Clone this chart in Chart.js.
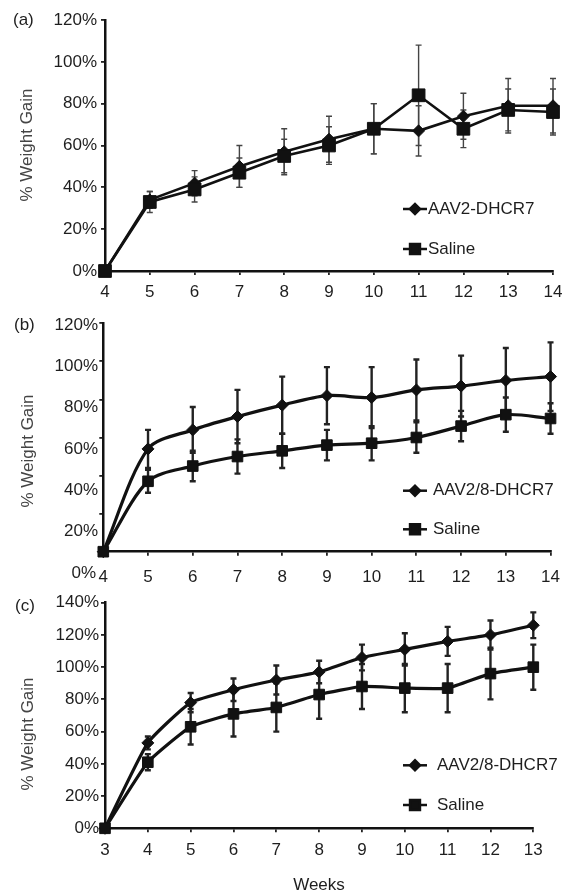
<!DOCTYPE html>
<html>
<head>
<meta charset="utf-8">
<script src="https://cdn.jsdelivr.net/npm/chart.js@4.4.0/dist/chart.umd.min.js"></script>
<style>
  body { margin: 0; background: #fff; width: 571px; height: 895px; position: relative; overflow: hidden; }
  canvas { position: absolute; left: 0; }
</style>
</head>
<body>
<canvas id="chartA" width="571" height="300" style="top:0"></canvas>
<canvas id="chartB" width="571" height="290" style="top:300px"></canvas>
<canvas id="chartC" width="571" height="305" style="top:590px"></canvas>
<script>
// ---- data ----
const weeksA = [4, 5, 6, 7, 8, 9, 10, 11, 12, 13, 14];
const aavA = [0, 34, 42, 50, 57, 63, 68, 67, 74, 79, 79];
const aavAErr = [0, 4, 6, 10, 11, 11, 12, 12, 11, 13, 13];
const salA = [0, 33, 39, 47, 55, 60, 68, 84, 68, 77, 76];
const salAErr = [0, 5, 6, 7, 8, 9, 12, 24, 9, 10, 11];

const weeksB = [4, 5, 6, 7, 8, 9, 10, 11, 12, 13, 14];
const aavB = [0, 54, 64, 71, 77, 82, 81, 85, 87, 90, 92];
const aavBErr = [0, 10, 12, 14, 15, 15, 16, 16, 16, 17, 18];
const salB = [0, 37, 45, 50, 53, 56, 57, 60, 66, 72, 70];
const salBErr = [0, 6, 8, 9, 9, 8, 9, 8, 8, 9, 8];

const weeksC = [3, 4, 5, 6, 7, 8, 9, 10, 11, 12, 13];
const aavC = [0, 53, 78, 86, 92, 97, 106, 111, 116, 120, 126];
const aavCErr = [0, 4, 6, 7, 9, 7, 8, 10, 9, 9, 8];
const salC = [0, 41, 63, 71, 75, 83, 88, 87, 87, 96, 100];
const salCErr = [0, 5, 11, 14, 15, 15, 14, 15, 15, 16, 14];

const yTicksA = [0, 20, 40, 60, 80, 100, 120];
const yTicksB = [0, 20, 40, 60, 80, 100, 120];
const yLabelsB = [20, 40, 60, 80, 100, 120];
const yTicksC = [0, 20, 40, 60, 80, 100, 120, 140];

const FONT = "'Liberation Sans', Arial, sans-serif";
Chart.defaults.font.family = FONT;
Chart.defaults.font.size = 17;
Chart.defaults.color = '#1e1e1e';

const pct = v => v + '%';
const pts = (xs, ys) => xs.map((x, i) => ({ x: x, y: ys[i] }));

// vertical error bars drawn through the chart's own scales
const errorBars = {
  id: 'errorBars',
  beforeDatasetsDraw(chart, args, opts) {
    const { ctx, scales: { x, y } } = chart;
    ctx.save();
    ctx.strokeStyle = opts.color;
    ctx.lineWidth = opts.width;
    chart.data.datasets.forEach(ds => {
      if (!ds.errors) return;
      ds.data.forEach((p, j) => {
        const e = ds.errors[j];
        if (!e) return;
        const px = x.getPixelForValue(p.x);
        const top = y.getPixelForValue(p.y + e);
        const bot = y.getPixelForValue(p.y - e);
        ctx.beginPath();
        ctx.moveTo(px, top); ctx.lineTo(px, bot);
        ctx.moveTo(px - opts.cap, top); ctx.lineTo(px + opts.cap, top);
        ctx.moveTo(px - opts.cap, bot); ctx.lineTo(px + opts.cap, bot);
        ctx.stroke();
      });
    });
    ctx.restore();
  }
};

// panel letter, rotated y title, in-plot legend and loose texts
const deco = {
  id: 'deco',
  afterDraw(chart, args, o) {
    const ctx = chart.ctx;
    ctx.save();
    ctx.fillStyle = '#1e1e1e';
    ctx.font = '17px ' + FONT;
    ctx.textBaseline = 'middle';
    ctx.textAlign = 'left';
    ctx.fillText(o.letter, o.letterPos[0], o.letterPos[1]);

    ctx.save();
    ctx.translate(o.titlePos[0], o.titlePos[1]);
    ctx.rotate(-Math.PI / 2);
    ctx.textAlign = 'center';
    ctx.fillStyle = '#444';
    ctx.fillText('% Weight Gain', 0, 0);
    ctx.restore();

    const lg = o.legend;
    chart.data.datasets.forEach((ds, i) => {
      const y = lg.y + i * lg.gap;
      ctx.strokeStyle = '#111';
      ctx.lineWidth = 2.5;
      ctx.beginPath();
      ctx.moveTo(lg.x, y); ctx.lineTo(lg.x + 24, y);
      ctx.stroke();
      ctx.fillStyle = '#111';
      Chart.helpers.drawPoint(ctx, { pointStyle: ds.pointStyle, radius: ds.pointStyle === 'rect' ? 7 : 5, rotation: 0, borderWidth: 1 }, lg.x + 12, y);
      ctx.fillStyle = '#1e1e1e';
      ctx.fillText(ds.label, lg.textX, y);
    });

    (o.extra || []).forEach(t => {
      ctx.textAlign = t.align;
      ctx.fillStyle = '#1e1e1e';
      ctx.fillText(t.text, t.x, t.y);
    });
    ctx.restore();
  }
};

function series(label, xs, ys, errs, style, radius, lw, tension, order) {
  return {
    label: label,
    data: pts(xs, ys),
    errors: errs,
    borderColor: '#111',
    backgroundColor: '#111',
    borderWidth: lw,
    pointStyle: style,
    pointRadius: radius,
    pointBorderWidth: 1,
    tension: tension,
    clip: false,
    order: order
  };
}

function xAxis(weeks, height, pad) {
  return {
    type: 'linear',
    min: weeks[0],
    max: weeks[weeks.length - 1],
    afterBuildTicks: s => { s.ticks = weeks.map(v => ({ value: v })); },
    afterFit: s => { s.height = height; },
    ticks: { padding: pad, color: '#1e1e1e' },
    grid: { drawOnChartArea: false, tickLength: 4, color: '#222', lineWidth: 1.8 },
    border: { display: true, color: '#111', width: 2.5 }
  };
}

function yAxis(ticks, width, pad) {
  return {
    min: ticks[0],
    max: ticks[ticks.length - 1],
    afterBuildTicks: s => { s.ticks = ticks.map(v => ({ value: v })); },
    afterFit: s => { s.width = width; },
    ticks: { callback: pct, padding: pad, color: '#1e1e1e' },
    grid: { drawOnChartArea: false, tickLength: 4, color: '#222', lineWidth: 1.8 },
    border: { display: true, color: '#111', width: 2.5 }
  };
}

const common = {
  responsive: false,
  animation: false,
  devicePixelRatio: 1,
  events: []
};

// (a)
new Chart(document.getElementById('chartA'), {
  type: 'line',
  data: {
    datasets: [
      series('AAV2-DHCR7', weeksA, aavA, aavAErr, 'rectRot', 6, 2.6, 0, 1),
      series('Saline', weeksA, salA, salAErr, 'rect', 9, 2.6, 0, 0)
    ]
  },
  options: Object.assign({}, common, {
    layout: { padding: { top: 20, right: 18, left: 0, bottom: 0 } },
    scales: { x: xAxis(weeksA, 29, 7), y: yAxis(yTicksA, 105, 4) },
    plugins: {
      legend: { display: false },
      tooltip: { enabled: false },
      errorBars: { color: '#444', width: 1.4, cap: 3 },
      deco: {
        letter: '(a)', letterPos: [13, 20], titlePos: [27, 145],
        legend: { x: 403, y: 209, gap: 40, textX: 428 }
      }
    }
  }),
  plugins: [errorBars, deco]
});

// (b) - y labels sit on a separate label-only axis, as in the figure
const yB = yAxis(yTicksB, 4.3, 4);
yB.ticks = { display: false };
yB.weight = 0;
new Chart(document.getElementById('chartB'), {
  type: 'line',
  data: {
    datasets: [
      series('AAV2/8-DHCR7', weeksB, aavB, aavBErr, 'rectRot', 6, 3.2, 0.3, 1),
      series('Saline', weeksB, salB, salBErr, 'rect', 7.5, 3.2, 0.3, 0)
    ]
  },
  options: Object.assign({}, common, {
    layout: { padding: { top: 23.3, right: 8.3, left: 0, bottom: 0 } },
    scales: {
      x: xAxis(weeksB, 38.3, 11),
      y: yB,
      yl: {
        position: 'left',
        weight: 1,
        min: 10.3,
        max: 120.8,
        afterBuildTicks: s => { s.ticks = yLabelsB.map(v => ({ value: v })); },
        afterFit: s => { s.width = 99; },
        ticks: { callback: pct, padding: 1, color: '#1e1e1e' },
        grid: { display: false, drawTicks: false },
        border: { display: false }
      }
    },
    plugins: {
      legend: { display: false },
      tooltip: { enabled: false },
      errorBars: { color: '#222', width: 2.4, cap: 3 },
      deco: {
        letter: '(b)', letterPos: [14, 25], titlePos: [28, 151],
        legend: { x: 403, y: 190.7, gap: 38.6, textX: 433 },
        extra: [{ text: '0%', x: 96, y: 273.3, align: 'right' }]
      }
    }
  }),
  plugins: [errorBars, deco]
});

// (c)
new Chart(document.getElementById('chartC'), {
  type: 'line',
  data: {
    datasets: [
      series('AAV2/8-DHCR7', weeksC, aavC, aavCErr, 'rectRot', 6, 3.2, 0.15, 1),
      series('Saline', weeksC, salC, salCErr, 'rect', 7.5, 3.2, 0.15, 0)
    ]
  },
  options: Object.assign({}, common, {
    layout: { padding: { top: 12.7, right: 37.7, left: 0, bottom: 0 } },
    scales: { x: xAxis(weeksC, 66.7, 8), y: yAxis(yTicksC, 105, 2) },
    plugins: {
      legend: { display: false },
      tooltip: { enabled: false },
      errorBars: { color: '#222', width: 2.4, cap: 3 },
      deco: {
        letter: '(c)', letterPos: [15, 16], titlePos: [28, 144],
        legend: { x: 403, y: 175.3, gap: 39.7, textX: 437 },
        extra: [{ text: 'Weeks', x: 319, y: 295, align: 'center' }]
      }
    }
  }),
  plugins: [errorBars, deco]
});
</script>
</body>
</html>
